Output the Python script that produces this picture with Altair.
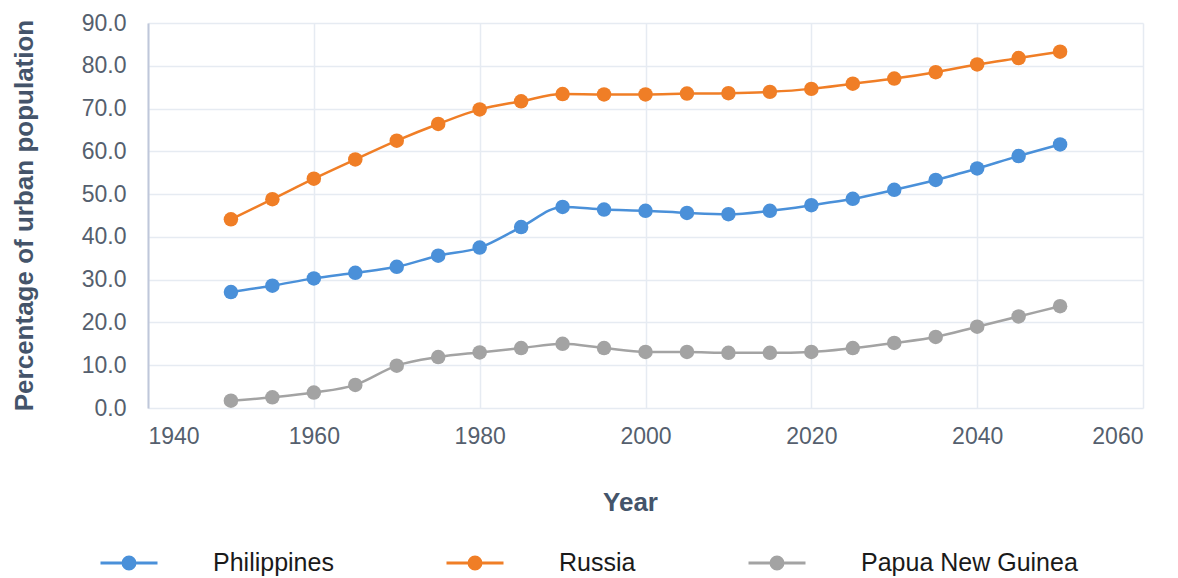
import altair as alt
import pandas as pd

years = [1950, 1955, 1960, 1965, 1970, 1975, 1980, 1985, 1990, 1995, 2000,
         2005, 2010, 2015, 2020, 2025, 2030, 2035, 2040, 2045, 2050]

philippines = [27.1, 28.6, 30.3, 31.6, 33.0, 35.6, 37.5, 42.3, 47.0, 46.4, 46.1,
               45.6, 45.3, 46.1, 47.4, 48.9, 51.0, 53.3, 56.0, 58.9, 61.6]
russia = [44.1, 48.8, 53.6, 58.1, 62.5, 66.4, 69.8, 71.7, 73.4, 73.3, 73.3,
          73.5, 73.6, 73.9, 74.6, 75.8, 77.0, 78.5, 80.3, 81.8, 83.3]
png = [1.7, 2.5, 3.6, 5.4, 9.9, 11.9, 13.0, 14.0, 15.0, 14.0, 13.1,
       13.1, 12.9, 12.9, 13.1, 14.0, 15.2, 16.6, 19.0, 21.4, 23.8]

series_names = ["Philippines", "Russia", "Papua New Guinea"]
series_colors = ["#4A90D9", "#F07E26", "#A3A3A3"]
x_ticks = [1940, 1960, 1980, 2000, 2020, 2040, 2060]
y_ticks = [0, 10, 20, 30, 40, 50, 60, 70, 80, 90]

rows = []
for name, vals in zip(series_names, [philippines, russia, png]):
    for yr, v in zip(years, vals):
        rows.append({"Year": yr, "Value": v, "Country": name})
df = pd.DataFrame(rows)

color = alt.Color(
    "Country:N",
    scale=alt.Scale(domain=series_names, range=series_colors),
    legend=alt.Legend(
        title=None,
        orient="none",
        direction="horizontal",
        legendX=-49,
        legendY=510,
        symbolType="M-1,0L1,0M-0.21,0A0.21,0.21,0,1,1,0.21,0A0.21,0.21,0,1,1,-0.21,0Z",
        symbolSize=3249,
        symbolStrokeWidth=3,
        symbolOpacity=1,
        labelFont="Liberation Sans",
        labelFontSize=25,
        labelColor="#1A1A1A",
        labelOffset=54,
        columnPadding=106,
        labelLimit=400,
    ),
)

x = alt.X(
    "Year:Q",
    scale=alt.Scale(domain=[1940, 2060], nice=False, zero=False),
    axis=alt.Axis(
        values=x_ticks,
        format="d",
        title="Year",
        titleX=482,
        titleY=94,
        titleBaseline="middle",
        titleFontSize=26,
        titleFontWeight="bold",
        titleColor="#44546A",
        labelFontSize=23,
        labelColor="#555F6E",
        labelPadding=17,
        ticks=False,
        domain=False,
        grid=True,
        gridColor="#E6EBF2",
        gridWidth=1.5,
    ),
)

y = alt.Y(
    "Value:Q",
    scale=alt.Scale(domain=[0, 90], nice=False),
    axis=alt.Axis(
        values=y_ticks,
        format=".1f",
        title="Percentage of urban population",
        titleX=-124,
        titleY=192,
        titleAngle=-90,
        titleAlign="center",
        titleBaseline="middle",
        titleFontSize=26,
        titleFontWeight="bold",
        titleColor="#44546A",
        labelFontSize=23,
        labelColor="#555F6E",
        labelPadding=22,
        ticks=False,
        domain=True,
        domainColor="#BFC7DA",
        domainWidth=2,
        grid=True,
        gridColor="#E6EBF2",
        gridWidth=1.5,
    ),
)

base = alt.Chart(df)
lines = base.mark_line(interpolate="monotone", strokeWidth=2.5).encode(
    x=x, y=y, color=color, detail="Country:N"
)
points = base.mark_point(filled=True, size=210, opacity=1).encode(
    x=x, y=y, color=color
)

chart = (
    alt.layer(lines, points)
    .properties(
        width=995,
        height=385,
        autosize=alt.AutoSizeParams(type="none"),
        padding={"left": 140, "top": 15, "right": 27, "bottom": 170},
    )
    .configure_view(stroke=None)
    .configure_axis(labelFont="Liberation Sans", titleFont="Liberation Sans")
)

chart.save("out.html", embed_options={"renderer": "svg", "actions": False})
